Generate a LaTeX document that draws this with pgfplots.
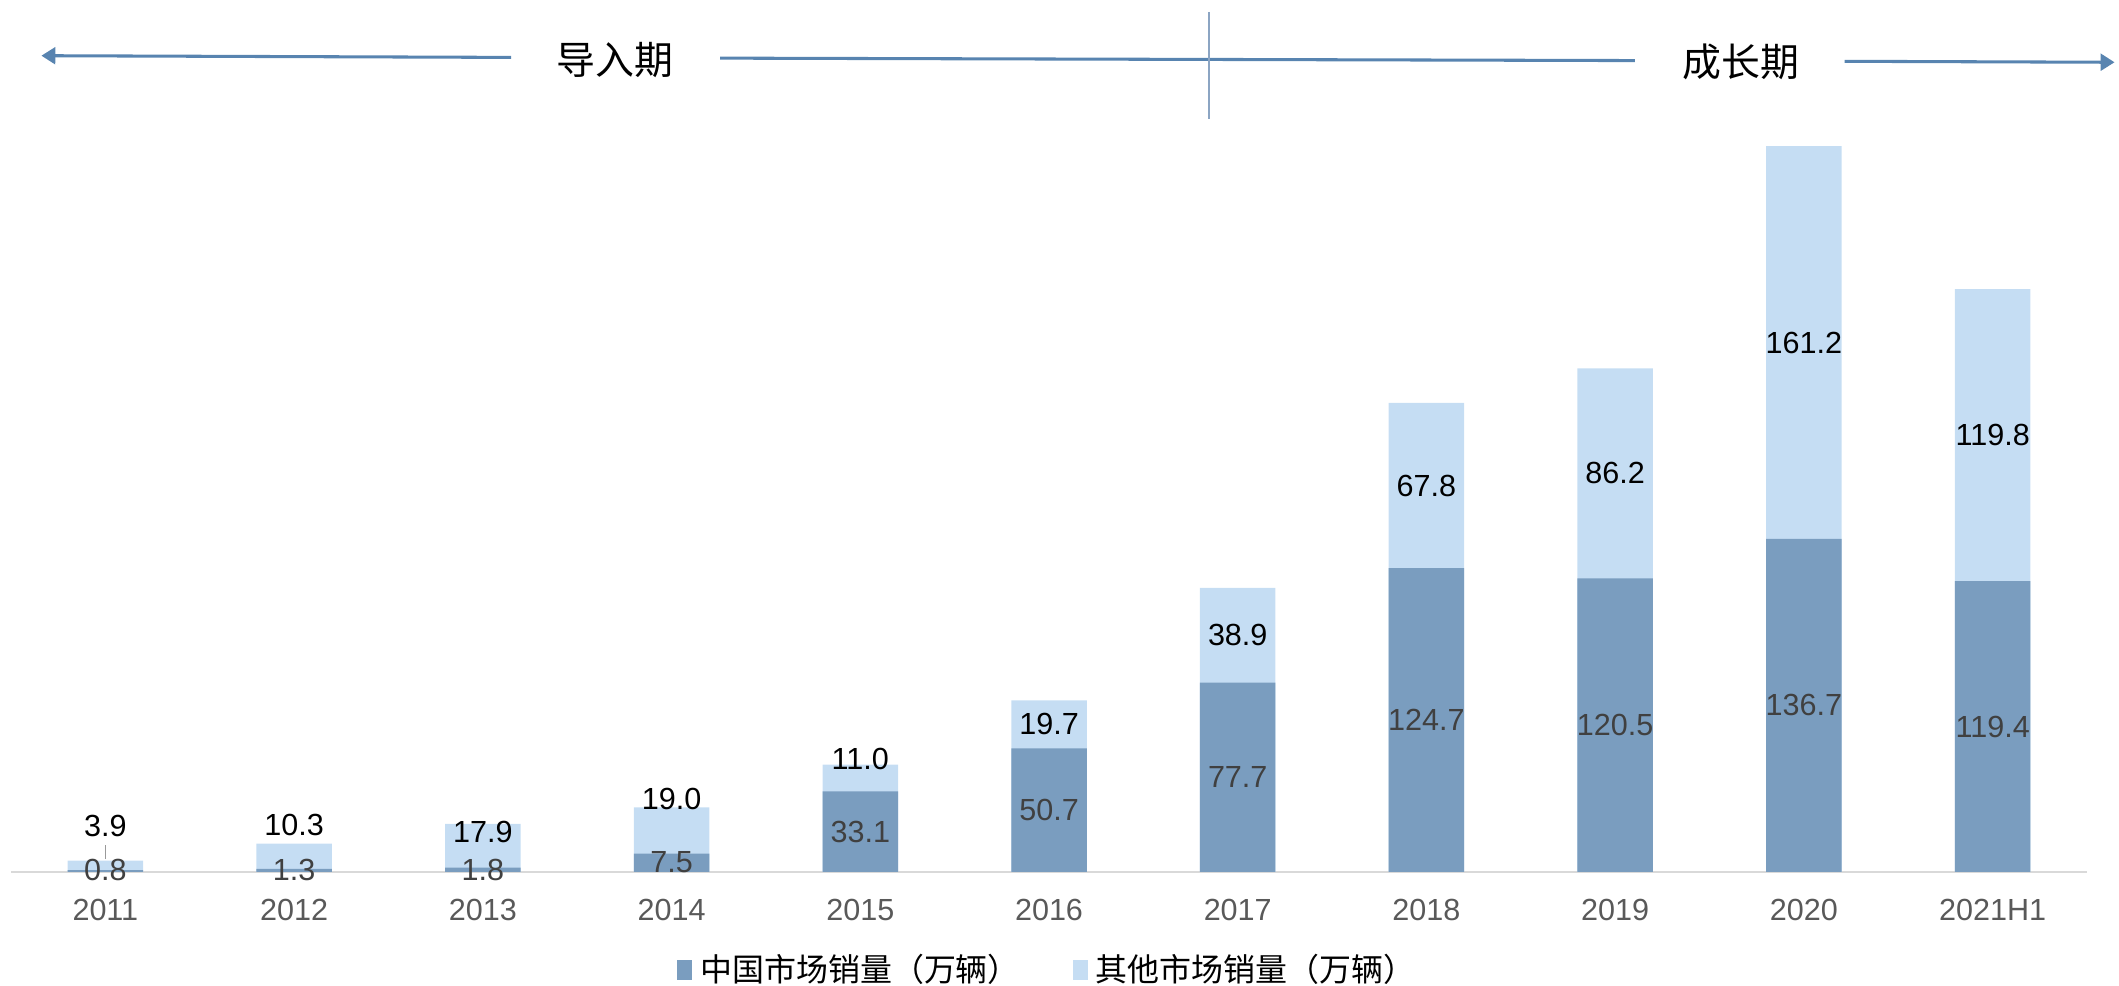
\documentclass[border=0pt]{standalone}
\usepackage{fontspec}
\setmainfont{Liberation Sans}
\newfontfamily\cjk{Noto Sans CJK SC}
\usepackage{pgfplots}
\pgfplotsset{compat=1.18}
\usepackage{pgfplotstable}
\usetikzlibrary{arrows.meta}
\definecolor{darkbar}{RGB}{122,157,191}
\definecolor{lightbar}{RGB}{197,221,243}
\definecolor{arrowc}{RGB}{88,132,176}
\definecolor{vline}{RGB}{140,165,195}
\definecolor{ticktext}{RGB}{89,89,89}
\definecolor{darklabel}{RGB}{64,64,64}

\pgfplotstableread{
x china other
0 0.8 3.9
1 1.3 10.3
2 1.8 17.9
3 7.5 19.0
4 33.1 11.0
5 50.7 19.7
6 77.7 38.9
7 124.7 67.8
8 120.5 86.2
9 136.7 161.2
10 119.4 119.8
}\sales

\pgfplotstableread{
x y lab
0 1.0 0.8
1 1.0 1.3
2 1.0 1.8
3 3.9 7.5
4 16.55 33.1
5 25.35 50.7
6 38.85 77.7
7 62.35 124.7
8 60.25 120.5
9 68.35 136.7
10 59.7 119.4
}\darklab

\pgfplotstableread{
x y lab
0 18.8 3.9
1 19.3 10.3
2 16.6 17.9
3 29.9 19.0
4 46.5 11.0
5 60.55 19.7
6 97.15 38.9
7 158.6 67.8
8 163.6 86.2
9 217.3 161.2
10 179.3 119.8
}\lightlab

\begin{document}
\begin{tikzpicture}
\useasboundingbox (0,0) rectangle (762.84pt,354.96pt);
\begin{axis}[
  at={(3.96pt,41.04pt)}, anchor=south west,
  scale only axis, width=747.36pt, height=263.16pt,
  xmin=-0.5, xmax=10.5, ymin=0, ymax=300,
  clip=false,
  axis y line=none,
  axis x line*=bottom,
  x axis line style={draw=black!15, line width=0.75pt},
  xtick={0,...,10},
  xticklabels={2011,2012,2013,2014,2015,2016,2017,2018,2019,2020,2021H1},
  major tick length=0pt,
  xticklabel style={anchor=north, inner sep=0pt, yshift=-9.7pt, font=\fontsize{11}{13}\selectfont, text=ticktext},
  legend style={at={(0.5,-0.134)}, anchor=center, draw=none, fill=none,
    legend columns=2, font=\cjk\fontsize{11.5}{13}\selectfont,
    /tikz/every even column/.append style={column sep=17pt},
    /tikz/every odd column/.append style={column sep=1pt}},
]
\addlegendimage{legend image code/.code={\fill[darkbar] (0pt,-3.5pt) rectangle (5pt,3.5pt);}}
\addlegendentry{中国市场销量（万辆）}
\addlegendimage{legend image code/.code={\fill[lightbar] (0pt,-3.5pt) rectangle (5pt,3.5pt);}}
\addlegendentry{其他市场销量（万辆）}

\addplot[ybar, bar width=0.4, bar shift=0pt, fill=lightbar, draw=none, forget plot]
  table[x=x, y expr=\thisrow{china}+\thisrow{other}]{\sales};
\addplot[ybar, bar width=0.4, bar shift=0pt, fill=darkbar, draw=none, forget plot]
  table[x=x, y=china]{\sales};

% leader line for 2011
\addplot[draw=black!40, line width=0.5pt, forget plot] coordinates {(0,5.3) (0,11)};

\addplot[draw=none, mark=none, forget plot, nodes near coords, point meta=explicit symbolic,
  every node near coord/.append style={anchor=center, inner sep=0pt, font=\fontsize{11}{13}\selectfont, text=darklabel}]
  table[x=x, y=y, meta=lab]{\darklab};
\addplot[draw=none, mark=none, forget plot, nodes near coords, point meta=explicit symbolic,
  every node near coord/.append style={anchor=center, inner sep=0pt, font=\fontsize{11}{13}\selectfont, text=black}]
  table[x=x, y=y, meta=lab]{\lightlab};

% phase arrows
\draw[arrowc, line width=1.1pt, {Triangle[length=5pt,width=6pt]}-] (axis cs:-0.339,335) -- (axis cs:2.150,334.3);
\draw[arrowc, line width=1.1pt] (axis cs:3.257,334.0) -- (axis cs:8.104,333.0);
\draw[arrowc, line width=1.1pt, -{Triangle[length=5pt,width=6pt]}] (axis cs:9.216,332.7) -- (axis cs:10.646,332.3);
\draw[vline, line width=0.5pt] (axis cs:5.847,353) -- (axis cs:5.847,309);
\node[font=\cjk\fontsize{14}{16}\selectfont] at (axis cs:2.701,333.4) {导入期};
\node[font=\cjk\fontsize{14}{16}\selectfont] at (axis cs:8.665,332.4) {成长期};
\end{axis}
\end{tikzpicture}
\end{document}
